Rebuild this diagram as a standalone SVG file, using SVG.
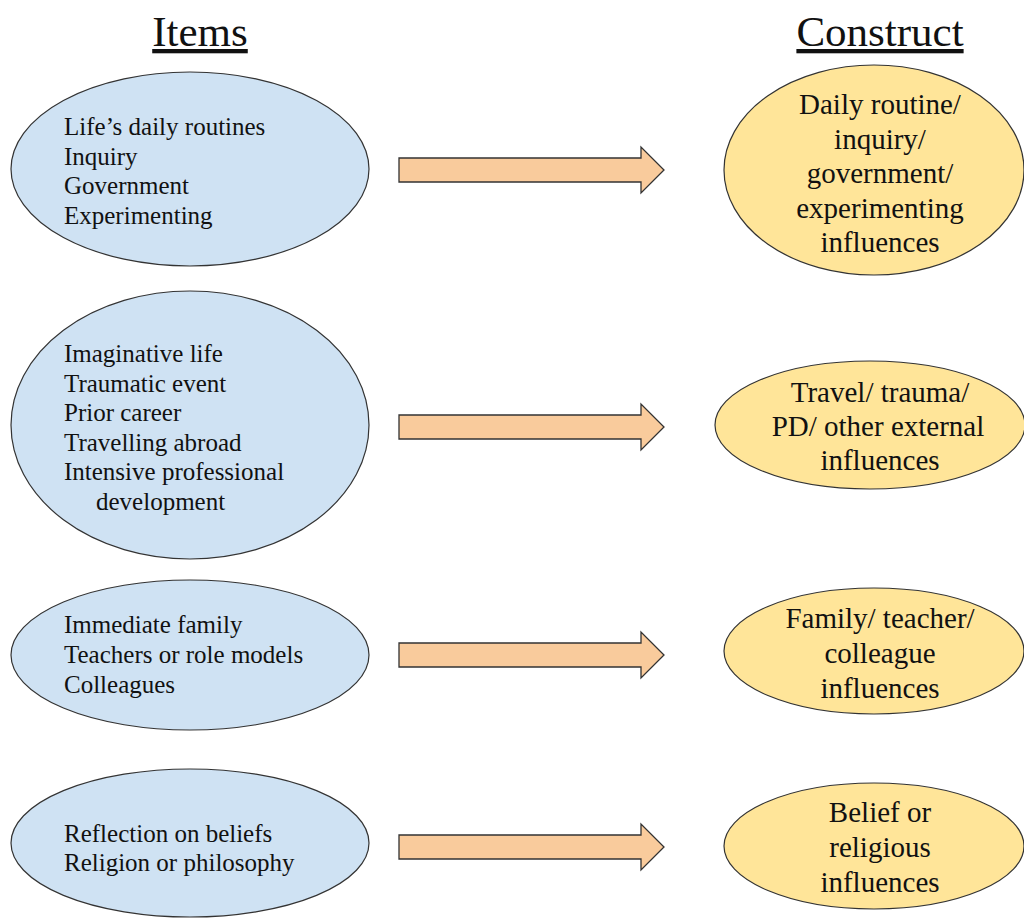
<svg xmlns="http://www.w3.org/2000/svg" width="1024" height="919" viewBox="0 0 1024 919">
<style>
.item{fill:#cfe2f3;stroke:#333;stroke-width:1.2}
.cons{fill:#ffe599;stroke:#333;stroke-width:1.2}
.arr{fill:#f9cb9c;stroke:#333;stroke-width:1.3}
text{font-family:"Times New Roman",Times,"Liberation Serif",Tinos,"Nimbus Roman","Nimbus Roman No9 L","FreeSerif","Noto Serif","DejaVu Serif",Georgia,serif;fill:#111}
.lt{font-size:25px}
.rt{font-size:29px;text-anchor:middle}
.hd{font-size:43px;text-anchor:middle;text-decoration:underline}
</style>
<rect width="1024" height="919" fill="#fff"/>
<g id="headers">
<text class="hd" x="200" y="46">Items</text>
<text class="hd" x="880" y="46">Construct</text>
</g>
<g id="item1">
<ellipse class="item" cx="190" cy="169" rx="179" ry="97"/>
<text class="lt" x="64" y="135">Life’s daily routines</text>
<text class="lt" x="64" y="165">Inquiry</text>
<text class="lt" x="64" y="194">Government</text>
<text class="lt" x="64" y="224">Experimenting</text>
</g>
<g id="item2">
<ellipse class="item" cx="190" cy="425" rx="179" ry="134"/>
<text class="lt" x="64" y="362">Imaginative life</text>
<text class="lt" x="64" y="392">Traumatic event</text>
<text class="lt" x="64" y="421">Prior career</text>
<text class="lt" x="64" y="451">Travelling abroad</text>
<text class="lt" x="64" y="480">Intensive professional</text>
<text class="lt" x="96" y="510">development</text>
</g>
<g id="item3">
<ellipse class="item" cx="190" cy="655" rx="179" ry="75"/>
<text class="lt" x="64" y="633">Immediate family</text>
<text class="lt" x="64" y="663">Teachers or role models</text>
<text class="lt" x="64" y="693">Colleagues</text>
</g>
<g id="item4">
<ellipse class="item" cx="190" cy="843" rx="179" ry="74"/>
<text class="lt" x="64" y="842">Reflection on beliefs</text>
<text class="lt" x="64" y="871">Religion or philosophy</text>
</g>
<g id="construct1">
<ellipse class="cons" cx="874" cy="170" rx="150" ry="105"/>
<text class="rt" x="880" y="114">Daily routine/</text>
<text class="rt" x="880" y="149">inquiry/</text>
<text class="rt" x="880" y="183">government/</text>
<text class="rt" x="880" y="218">experimenting</text>
<text class="rt" x="880" y="252">influences</text>
</g>
<g id="construct2">
<ellipse class="cons" cx="870" cy="425" rx="155" ry="64"/>
<text class="rt" x="880" y="402">Travel/ trauma/</text>
<text class="rt" x="878" y="436">PD/ other external</text>
<text class="rt" x="880" y="470">influences</text>
</g>
<g id="construct3">
<ellipse class="cons" cx="874" cy="651" rx="150" ry="63"/>
<text class="rt" x="880" y="628">Family/ teacher/</text>
<text class="rt" x="880" y="663">colleague</text>
<text class="rt" x="880" y="698">influences</text>
</g>
<g id="construct4">
<ellipse class="cons" cx="874" cy="846" rx="150" ry="63"/>
<text class="rt" x="880" y="822">Belief or</text>
<text class="rt" x="880" y="857">religious</text>
<text class="rt" x="880" y="892">influences</text>
</g>
<g id="connectors">
<polygon class="arr" points="399,158 641,158 641,147 664,170 641,193 641,182 399,182"/>
<polygon class="arr" points="399,415 641,415 641,404 664,427 641,450 641,439 399,439"/>
<polygon class="arr" points="399,643 641,643 641,632 664,655 641,678 641,667 399,667"/>
<polygon class="arr" points="399,835 641,835 641,824 664,847 641,870 641,859 399,859"/>
</g>
</svg>
